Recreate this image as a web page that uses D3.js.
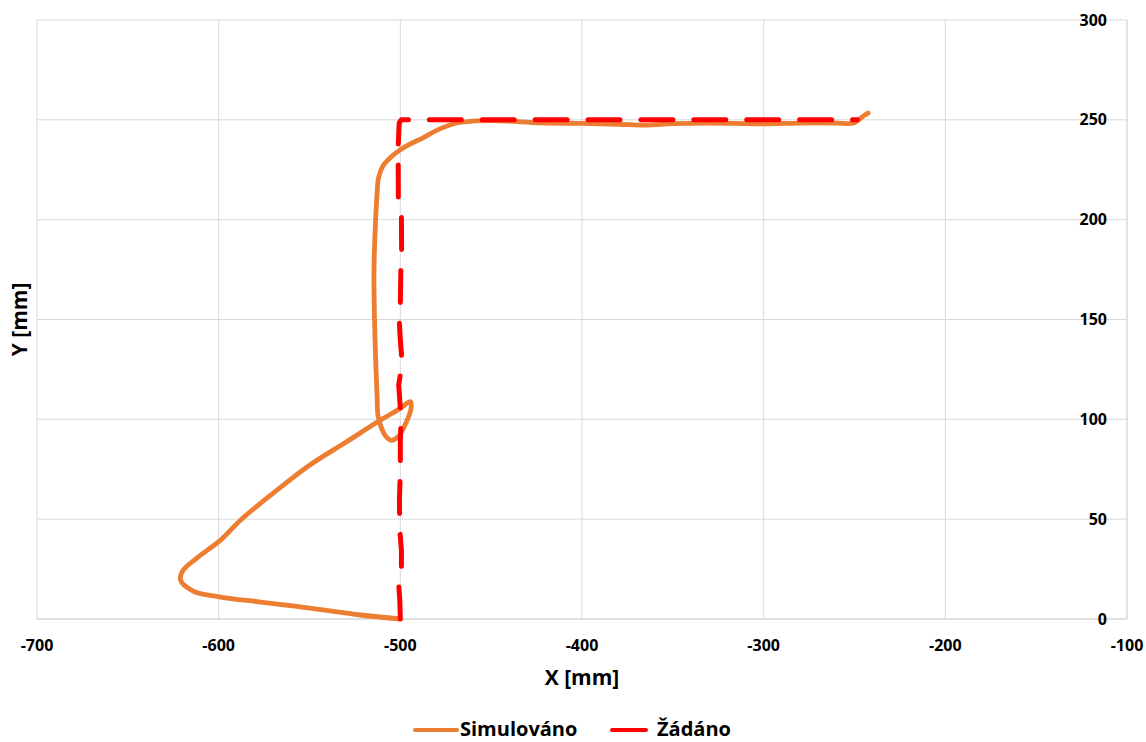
<!DOCTYPE html>
<html>
<head>
<meta charset="utf-8">
<script src="https://cdn.jsdelivr.net/npm/d3@7"></script>
<style>
  html, body { margin: 0; padding: 0; background: #fff; }
  svg { display: block; font-family: "Open Sans", sans-serif; }
</style>
</head>
<body>
<svg id="chart" width="1146" height="742"></svg>
<script>
// ---- Data ----
const xTicks = [-700, -600, -500, -400, -300, -200, -100];
const yTicks = [0, 50, 100, 150, 200, 250, 300];

// Simulováno (simulated trajectory)
const simX = [-500, -522, -550, -577, -599, -614, -621, -619.5, -612, -599, -588, -570, -550, -530, -512, -500, -494.5, -494, -497, -501, -505, -508, -510.5, -512.3, -512.8, -513.4, -514.2, -514.5, -513.6, -512.8, -512, -509.5, -505, -500, -494, -487.5, -478, -469, -460, -450, -441, -423, -400, -380, -365, -350, -330, -300, -280, -260, -251, -248, -245, -242.5];
const simY = [0, 2, 5.5, 8.5, 11, 14, 19.5, 24.5, 30.5, 39.5, 49.5, 63, 77, 88.5, 99, 105.5, 108.8, 106, 98, 91.5, 89.5, 91.5, 96, 102, 112, 125, 150, 175, 200, 213, 221, 227, 231.5, 235, 238.2, 241, 245.6, 248.4, 249.4, 249.6, 249.4, 248.5, 248.2, 247.8, 247.4, 248.1, 248.4, 248, 248.4, 248.4, 248.3, 249.8, 252, 253.4];

// Žádáno (requested trajectory)
const reqX = [-500, -500.3, -500.8, -499.4, -499.4, -500.3, -500.5, -500, -500, -499.6, -500.3, -500.9, -499, -500, -500.6, -500, -499.7, -499.3, -499.4, -501.1, -501.2, -500.8, -500.6, -499.5, -495, -450, -400, -350, -300, -248.5];
const reqY = [0, 9.5, 16, 24.5, 34.5, 44.6, 59.6, 74.6, 89.6, 99.6, 109.7, 117.2, 128.2, 139.7, 149.7, 158.2, 176, 184.8, 203.3, 211.3, 236.4, 244.9, 248.5, 250, 250, 250, 250, 250, 250, 250];

const seriesNames = ["Simulováno", "Žádáno"];
const seriesColors = ["#ED7D31", "#FF0000"];

// ---- Layout ----
const svg = d3.select("#chart");
const plot = { left: 37, right: 1127, top: 20, bottom: 619 };

const x = d3.scaleLinear().domain([-700, -100]).range([plot.left, plot.right]);
const y = d3.scaleLinear().domain([0, 300]).range([plot.bottom, plot.top]);

// Gridlines
const grid = svg.append("g");
grid.selectAll("line.v").data(xTicks.filter(d => d < -100)).join("line")
  .attr("x1", d => x(d)).attr("x2", d => x(d))
  .attr("y1", plot.top).attr("y2", plot.bottom)
  .attr("stroke", "#d9d9d9").attr("stroke-width", 1);
grid.selectAll("line.h").data(yTicks.filter(d => d > 0)).join("line")
  .attr("x1", plot.left).attr("x2", plot.right)
  .attr("y1", d => y(d)).attr("y2", d => y(d))
  .attr("stroke", "#d9d9d9").attr("stroke-width", 1);

// Axis lines (x axis at y=0, y axis at x=-100)
svg.append("line")
  .attr("x1", plot.left).attr("x2", plot.right)
  .attr("y1", y(0)).attr("y2", y(0))
  .attr("stroke", "#bfbfbf").attr("stroke-width", 1.2);
svg.append("line")
  .attr("x1", x(-100)).attr("x2", x(-100))
  .attr("y1", plot.top).attr("y2", plot.bottom)
  .attr("stroke", "#d0d0d0").attr("stroke-width", 1.2);

// Tick labels
svg.append("g").selectAll("text").data(xTicks).join("text")
  .attr("x", d => x(d)).attr("y", plot.bottom + 32)
  .attr("text-anchor", "middle")
  .attr("font-size", 16).attr("font-weight", 700).attr("fill", "#000")
  .text(d => String(d));

svg.append("g").selectAll("text").data(yTicks).join("text")
  .attr("x", plot.right - 20).attr("y", d => y(d))
  .attr("dy", "0.35em")
  .attr("text-anchor", "end")
  .attr("font-size", 16).attr("font-weight", 700).attr("fill", "#000")
  .text(d => d);

// Axis titles
svg.append("text")
  .attr("x", x(-400)).attr("y", 685)
  .attr("text-anchor", "middle")
  .attr("font-size", 21).attr("font-weight", 700).attr("fill", "#000")
  .text("X [mm]");
svg.append("text")
  .attr("transform", `translate(27, ${(plot.top + plot.bottom) / 2}) rotate(-90)`)
  .attr("text-anchor", "middle")
  .attr("font-size", 21).attr("font-weight", 700).attr("fill", "#000")
  .text("Y [mm]");

// Lines
const simData = simX.map((v, i) => [v, simY[i]]);
const reqData = reqX.map((v, i) => [v, reqY[i]]);

const lineSmooth = d3.line().x(d => x(d[0])).y(d => y(d[1])).curve(d3.curveCatmullRom.alpha(0.5));
const lineStraight = d3.line().x(d => x(d[0])).y(d => y(d[1])).curve(d3.curveLinear);

svg.append("path")
  .attr("d", lineSmooth(simData))
  .attr("fill", "none").attr("stroke", seriesColors[0])
  .attr("stroke-width", 4.8).attr("stroke-linecap", "round").attr("stroke-linejoin", "round");

svg.append("path")
  .attr("d", lineStraight(reqData))
  .attr("fill", "none").attr("stroke", seriesColors[1])
  .attr("stroke-width", 5).attr("stroke-linecap", "round").attr("stroke-linejoin", "round")
  .attr("stroke-dasharray", "32 20.9");

// Legend
const legend = svg.append("g");
const legItems = [
  { name: seriesNames[0], color: seriesColors[0], x1: 415, x2: 457, tx: 460 },
  { name: seriesNames[1], color: seriesColors[1], x1: 612, x2: 646, tx: 657 }
];
legItems.forEach(it => {
  legend.append("line")
    .attr("x1", it.x1).attr("x2", it.x2).attr("y1", 730).attr("y2", 730)
    .attr("stroke", it.color).attr("stroke-width", 4).attr("stroke-linecap", "round");
  legend.append("text")
    .attr("x", it.tx).attr("y", 736)
    .attr("font-size", 20).attr("font-weight", 700).attr("fill", "#000")
    .text(it.name);
});
</script>
</body>
</html>
